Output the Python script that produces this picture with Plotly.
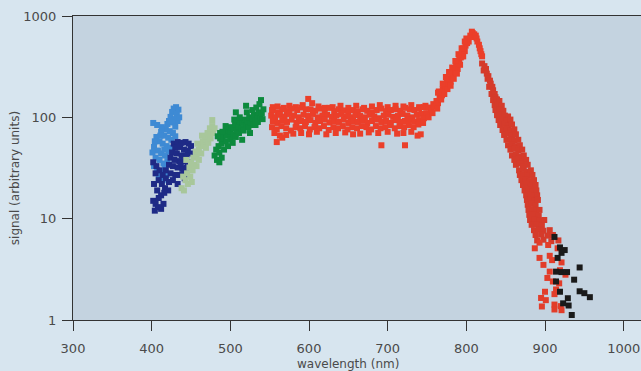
import plotly.graph_objects as go

x_ticks = [300, 400, 500, 600, 700, 800, 900, 1000]
y_ticks = [1, 10, 100, 1000]
y_tick_text = ["1", "10", "100", "1000"]

light_blue = [
    (428, 122), (431, 126), (434, 119), (426, 113), (432, 108), (402, 88), (407, 84), (424, 101),
    (429, 96), (433, 92), (420, 86), (426, 89), (430, 81), (418, 76), (423, 73), (427, 70),
    (412, 72), (416, 66), (421, 63), (425, 60), (430, 65), (406, 64), (410, 58), (414, 55),
    (419, 52), (424, 50), (403, 51), (408, 47), (412, 44), (417, 42), (422, 46), (405, 40),
    (410, 38), (415, 35), (420, 37), (403, 33), (407, 30), (412, 28), (417, 31), (409, 25),
    (414, 24), (419, 27), (401, 45), (404, 58), (413, 80), (422, 92), (435, 100), (411, 66), (416, 48),
]

navy = [
    (428, 55), (433, 57), (438, 56), (443, 57), (447, 55), (450, 52), (430, 50), (436, 51),
    (441, 48), (446, 47), (449, 44), (426, 45), (432, 44), (438, 42), (444, 42), (424, 40),
    (429, 38), (435, 37), (441, 37), (446, 36), (422, 34), (427, 33), (433, 32), (439, 31),
    (444, 32), (418, 30), (424, 28), (430, 27), (436, 27), (441, 28), (402, 36), (406, 33),
    (410, 30), (414, 27), (418, 25), (422, 23), (405, 28), (409, 24), (413, 22), (417, 20),
    (421, 19), (403, 22), (407, 19), (412, 17), (416, 18), (402, 15), (405, 14), (409, 16),
    (404, 12), (408, 13), (412, 12.5), (415, 14), (427, 24), (433, 22), (437, 35), (442, 25),
]

sage = [
    (438, 20), (441, 19), (443, 24), (446, 22), (440, 26), (445, 28), (449, 26), (448, 32),
    (452, 30), (450, 36), (454, 34), (457, 33), (453, 40), (457, 42), (460, 38), (456, 46),
    (460, 48), (463, 44), (462, 54), (466, 52), (469, 50), (465, 58), (469, 60), (472, 56),
    (468, 64), (472, 66), (475, 62), (471, 70), (475, 74), (478, 70), (474, 78), (477, 82),
    (480, 78), (477, 94), (444, 38), (451, 23), (458, 55), (464, 66),
]

dark_green = [
    (480, 42), (483, 38), (486, 45), (482, 48), (486, 36), (489, 40), (485, 52), (489, 55),
    (492, 48), (490, 62), (494, 58), (497, 52), (493, 68), (497, 66), (500, 60), (503, 56),
    (496, 74), (500, 72), (504, 68), (507, 64), (500, 80), (504, 78), (508, 74), (511, 70),
    (506, 85), (510, 82), (514, 78), (517, 74), (512, 90), (516, 88), (520, 84), (523, 80),
    (518, 95), (522, 92), (526, 88), (529, 84), (524, 100), (528, 98), (532, 94), (535, 90),
    (530, 106), (534, 104), (538, 100), (541, 96), (536, 112), (540, 110), (528, 118), (533, 125),
    (521, 112), (539, 148), (520, 130), (494, 82), (505, 95), (515, 60), (487, 62), (512, 100),
    (542, 120), (532, 84), (507, 112), (487, 70), (490, 72), (484, 65), (537, 135), (525, 70),
]

red_band = [
    (554, 126), (560, 128), (568, 124), (575, 130), (583, 126), (592, 132), (599, 152), (604, 138),
    (612, 128), (620, 124), (630, 126), (640, 130), (650, 124), (660, 130), (670, 124), (680, 128),
    (690, 132), (700, 126), (710, 130), (720, 128), (730, 132), (740, 126), (748, 130),
    (553, 118), (560, 112), (566, 120), (572, 115), (578, 122), (585, 118), (590, 125), (596, 120),
    (602, 120), (608, 116), (614, 122), (620, 118), (626, 124), (632, 115), (638, 120), (644, 117),
    (650, 112), (656, 118), (662, 114), (668, 120), (674, 116), (680, 112), (686, 118), (692, 122),
    (698, 115), (704, 118), (710, 120), (716, 116), (722, 124), (728, 120), (734, 118), (740, 122),
    (746, 126), (752, 125),
    (552, 104), (557, 100), (563, 106), (569, 102), (575, 108), (581, 104), (587, 100), (593, 106),
    (599, 103), (605, 108), (611, 100), (617, 104), (623, 106), (629, 101), (635, 104), (641, 108),
    (647, 102), (653, 100), (659, 105), (665, 103), (671, 100), (677, 106), (683, 102), (689, 98),
    (695, 104), (701, 106), (707, 101), (713, 103), (719, 108), (725, 104), (731, 100), (737, 106),
    (743, 108), (749, 110), (755, 112),
    (554, 92), (560, 88), (566, 94), (572, 90), (578, 95), (584, 88), (590, 92), (596, 90),
    (602, 94), (608, 88), (614, 92), (620, 95), (626, 89), (632, 92), (638, 90), (644, 95),
    (650, 88), (656, 92), (662, 90), (668, 94), (674, 88), (680, 92), (686, 95), (692, 90),
    (698, 92), (704, 88), (710, 94), (716, 90), (722, 92), (728, 95), (734, 91), (740, 94),
    (746, 98), (752, 100),
    (553, 80), (559, 76), (565, 82), (571, 78), (577, 74), (583, 80), (589, 78), (595, 82),
    (601, 76), (607, 80), (613, 78), (619, 82), (625, 75), (631, 80), (637, 78), (643, 82),
    (649, 76), (655, 80), (661, 78), (667, 82), (673, 80), (679, 76), (685, 82), (691, 78),
    (697, 80), (703, 84), (709, 78), (715, 82), (721, 80), (727, 84), (733, 80), (739, 85),
    (745, 88),
    (556, 70), (563, 66), (571, 67), (580, 69), (590, 70), (600, 68), (610, 72), (622, 68),
    (634, 70), (646, 71), (656, 68), (665, 69), (676, 71), (688, 70), (700, 72), (712, 69),
    (720, 70), (730, 72), (559, 57), (692, 53), (722, 53), (738, 66), (742, 68), (566, 63),
]

red_peak = [
    (756, 118), (758, 135), (760, 128), (762, 145), (764, 138), (766, 160), (768, 172), (765, 180),
    (770, 190), (772, 205), (774, 195), (776, 215), (778, 230), (780, 225), (781, 250), (783, 265),
    (785, 290), (786, 275), (788, 320), (789, 300), (790, 350), (791, 370), (793, 390), (794, 420),
    (795, 400), (797, 470), (798, 450), (799, 510), (801, 540), (802, 580), (803, 560), (805, 640),
    (806, 620), (808, 680), (810, 660), (807, 700), (812, 640), (757, 110), (763, 122), (769, 165),
    (775, 240), (787, 340), (796, 480), (800, 600), (813, 600), (814, 560), (816, 520), (817, 480),
    (818, 450), (819, 420), (820, 400), (768, 150), (772, 170), (776, 190), (780, 205), (784, 240),
    (788, 270), (792, 330), (796, 400), (764, 175), (770, 215), (774, 250), (778, 280), (782, 310),
    (786, 360), (790, 420), (794, 480), (798, 560),
]

red_fall = [
    (820, 340), (823, 320), (822, 290), (825, 300), (826, 270), (828, 255), (827, 240), (830, 230),
    (831, 215), (829, 200), (833, 200), (834, 185), (832, 170), (836, 170), (837, 158), (835, 150),
    (839, 150), (840, 140), (838, 135),
    (834, 148), (838, 150), (842, 145), (836, 132), (840, 135), (845, 130), (837, 118), (842, 120),
    (847, 116), (839, 105), (844, 107), (849, 104), (853, 102), (841, 94), (846, 96), (851, 93),
    (856, 95), (843, 84), (848, 86), (853, 83), (858, 85), (846, 75), (851, 77), (856, 74),
    (861, 76), (848, 67), (853, 69), (858, 66), (863, 68), (851, 60), (856, 61), (861, 59),
    (866, 60), (853, 53), (858, 54), (863, 52), (868, 53), (856, 48), (861, 49), (866, 47),
    (871, 48), (858, 42), (863, 43), (868, 41), (873, 42), (861, 38), (866, 39), (871, 37),
    (876, 38), (863, 34), (868, 35), (873, 33), (878, 34), (867, 30), (872, 31), (877, 29),
    (882, 30), (868, 27), (873, 27.5), (878, 26.5), (884, 27), (870, 24), (875, 24.5), (880, 23.5),
    (886, 24), (872, 21.5), (877, 22), (882, 21), (888, 21.5), (874, 19), (879, 19.5), (884, 18.7),
    (889, 19), (876, 17), (881, 17.3), (886, 16.8), (890, 17), (877, 15.3), (882, 15.6), (887, 15),
    (891, 15.3), (878, 13.7), (883, 14), (888, 13.5), (879, 12.2), (884, 12.4), (889, 12),
    (893, 12.2), (880, 10.9), (886, 11), (892, 10.7), (881, 9.7), (887, 9.9), (893, 9.5),
    (899, 9.7), (883, 8.7), (889, 8.8), (896, 8.6), (886, 7.7), (892, 7.9), (898, 7.6),
    (906, 7.7), (888, 6.9), (895, 7.0), (903, 6.8), (910, 6.9), (890, 6.1), (898, 6.2),
    (908, 6.0), (917, 6.1),
]

red_tail = [
    (887, 5.1), (904, 5.5), (893, 4.1), (909, 3.9), (921, 3.7), (906, 3.0), (919, 3.1), (926, 2.8),
    (910, 2.4), (918, 2.3), (900, 1.9), (912, 1.8), (895, 1.65), (901, 1.57), (912, 1.42), (920, 1.37),
    (896, 1.36), (912, 1.27), (921, 1.25), (916, 5.1), (898, 3.5), (906, 4.3), (893, 5.8), (914, 2.0),
    (903, 2.6),
]

black = [
    (912, 6.6), (919, 5.2), (925, 4.9), (921, 4.6), (916, 4.1), (914, 3.0), (921, 2.97), (928, 2.97),
    (944, 3.3), (937, 2.5), (914, 2.4), (919, 1.9), (944, 1.92), (950, 1.84), (957, 1.68), (929, 1.64),
    (923, 1.46), (930, 1.39), (934, 1.12),
]

series = [
    (light_blue, "#3e8ad4"),
    (navy, "#1e2a86"),
    (sage, "#a8c79b"),
    (dark_green, "#0d8a3d"),
    (red_band, "#eb3f2a"),
    (red_peak, "#eb3f2a"),
    (red_fall, "#d53b2b"),
    (red_tail, "#e23d2a"),
    (black, "#1a1a1a"),
]

fig = go.Figure()
for pts, col in series:
    fig.add_trace(go.Scatter(
        x=[p[0] for p in pts], y=[p[1] for p in pts], mode="markers",
        marker=dict(symbol="square", size=6, color=col, line=dict(width=0)),
        showlegend=False, hoverinfo="skip"))

fig.update_layout(
    width=641, height=371,
    margin=dict(l=73, r=0, t=16, b=51, autoexpand=False),
    paper_bgcolor="#d7e5ef", plot_bgcolor="#c4d3e0",
    font=dict(family="DejaVu Sans", size=13, color="#4a4a4a"),
    showlegend=False,
    annotations=[
        dict(text="wavelength (nm)", x=650, xref="x", y=-0.145, yref="paper",
             showarrow=False, xanchor="center", yanchor="middle",
             font=dict(family="DejaVu Sans", size=12, color="#4a4a4a")),
        dict(text="signal (arbitrary units)", x=-0.102, xref="paper", y=1.4, yref="y",
             showarrow=False, textangle=-90, xanchor="center", yanchor="middle",
             font=dict(family="DejaVu Sans", size=12, color="#4a4a4a")),
    ],
)
fig.update_xaxes(range=[300, 1022], tickvals=x_ticks, ticks="outside", ticklen=10,
                 tickcolor="#333", tickwidth=1, showline=True, linecolor="#333", linewidth=1.2,
                 mirror=True, showgrid=False, zeroline=False, ticklabelstandoff=6,
                 automargin=False)
fig.update_yaxes(type="log", range=[0, 3], tickvals=y_ticks, ticktext=y_tick_text,
                 ticks="outside", ticklen=10, tickcolor="#333", tickwidth=1, showline=True,
                 linecolor="#333", linewidth=1.2, showgrid=False, zeroline=False,
                 ticklabelstandoff=3, automargin=False)

fig.write_html(
    "out.html",
    config={"displayModeBar": False},
    post_script="document.body.style.margin='0';document.body.style.background='#d7e5ef';",
)
